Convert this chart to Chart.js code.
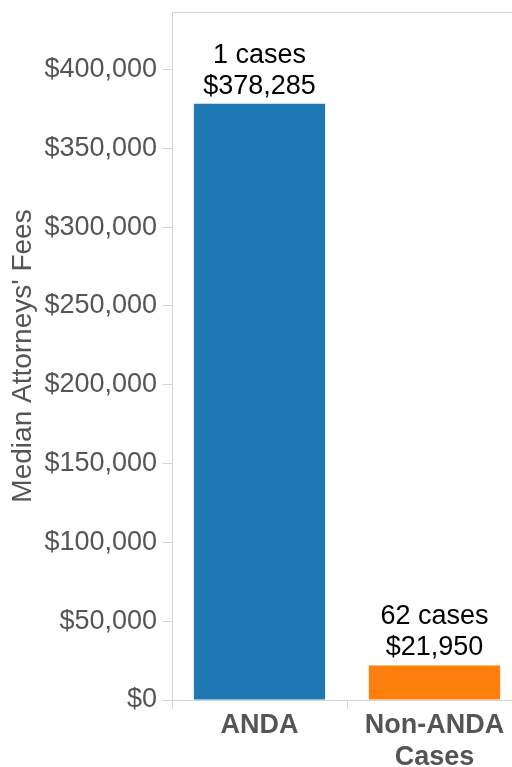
<!DOCTYPE html>
<html>
<head>
<meta charset="utf-8">
<script src="https://cdn.jsdelivr.net/npm/chart.js@4/dist/chart.umd.min.js"></script>
<style>
  html, body { margin: 0; padding: 0; background: #fff; overflow: hidden; }
  #wrap { position: relative; width: 540px; height: 767px; }
</style>
</head>
<body>
<div id="wrap"><canvas id="feeChart"></canvas></div>
<script>
// ===== data =====
const categories = ['ANDA', ['Non-ANDA', 'Cases']];
const medianFees = [378285, 21950];
const caseCounts = [1, 62];
const barColors  = ['#1f77b4', '#ff7f0e'];
const yTicks = [0, 50000, 100000, 150000, 200000, 250000, 300000, 350000, 400000];

const FONT = "'Liberation Sans', Arial, Helvetica, sans-serif";
const LINE = '#d4d4d4';

const money = v => '$' + v.toLocaleString('en-US');

// box line along the top of the plot area
const frameLine = {
  id: 'frameLine',
  afterDraw(chart) {
    const { ctx, chartArea: a } = chart;
    ctx.save();
    ctx.strokeStyle = LINE;
    ctx.lineWidth = 1;
    ctx.beginPath();
    ctx.moveTo(a.left, a.top + 0.5);
    ctx.lineTo(a.right, a.top + 0.5);
    ctx.lineTo(a.right + 0.5, a.bottom);
    ctx.stroke();
    ctx.restore();
  }
};

// "N cases / $value" above each bar
const barLabels = {
  id: 'barLabels',
  afterDatasetsDraw(chart) {
    const { ctx } = chart;
    const meta = chart.getDatasetMeta(0);
    ctx.save();
    ctx.fillStyle = '#000';
    ctx.font = '27px ' + FONT;
    ctx.textAlign = 'center';
    ctx.textBaseline = 'alphabetic';
    meta.data.forEach((bar, i) => {
      ctx.fillText(money(medianFees[i]), bar.x, bar.y - 10);
      ctx.fillText(caseCounts[i] + ' cases', bar.x, bar.y - 41);
    });
    ctx.restore();
  }
};

new Chart(document.getElementById('feeChart'), {
  type: 'bar',
  data: {
    labels: categories,
    datasets: [{
      data: medianFees,
      backgroundColor: barColors,
      borderWidth: 0,
      barPercentage: 0.75,
      categoryPercentage: 1
    }]
  },
  options: {
    responsive: true,
    maintainAspectRatio: false,
    animation: false,
    layout: { padding: { top: 12, right: 18, left: 0, bottom: 0 } },
    plugins: {
      legend: { display: false },
      tooltip: { enabled: false }
    },
    scales: {
      x: {
        offset: true,
        grid: { offset: true, drawOnChartArea: false, color: LINE, tickLength: 9 },
        border: { display: true, color: LINE },
        ticks: {
          color: '#555',
          padding: 0,
          font: { family: FONT, size: 27, weight: 'bold', lineHeight: 1.2 }
        },
        afterFit(scale) { scale.height = 67; }
      },
      y: {
        min: 0,
        max: 436500,
        grid: { drawOnChartArea: false, color: LINE, tickLength: 9 },
        border: { display: true, color: LINE },
        afterBuildTicks(scale) { scale.ticks = yTicks.map(v => ({ value: v })); },
        ticks: {
          color: '#555',
          padding: 6,
          font: { family: FONT, size: 27 },
          callback: v => money(v)
        },
        title: {
          display: true,
          text: "Median Attorneys' Fees",
          color: '#555',
          padding: { top: 6, bottom: 0 },
          font: { family: FONT, size: 28 }
        },
        afterFit(scale) {
          scale.width = 172;
          scale.paddingTop = 0;
          scale.paddingBottom = 0;
        }
      }
    }
  },
  plugins: [frameLine, barLabels]
});
</script>
</body>
</html>
